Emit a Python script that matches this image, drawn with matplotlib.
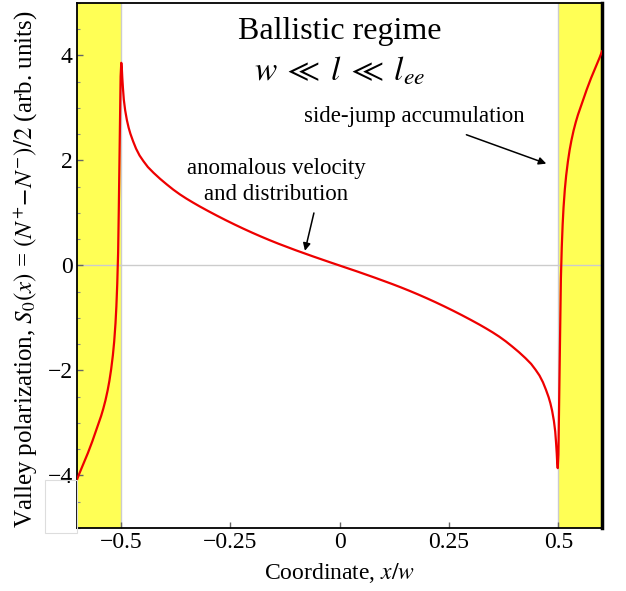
import matplotlib
matplotlib.use("Agg")
import matplotlib.pyplot as plt
from matplotlib.patches import Rectangle
from matplotlib.ticker import MultipleLocator

plt.rcParams['font.family'] = ['Liberation Serif', 'DejaVu Serif']
plt.rcParams['mathtext.fontset'] = 'stix'

# valley polarization profile
coord = [-0.600, -0.595, -0.590, -0.585, -0.580, -0.575, -0.570, -0.565,
         -0.560, -0.555, -0.550, -0.545, -0.540, -0.535, -0.530, -0.526,
         -0.522, -0.518, -0.515, -0.512, -0.510, -0.508, -0.506, -0.5045,
         -0.503, -0.5015, -0.5003, -0.4988, -0.4975, -0.4965, -0.495, -0.493,
         -0.490, -0.486, -0.482, -0.478, -0.472, -0.465, -0.457, -0.448,
         -0.438, -0.425, -0.410, -0.395, -0.380, -0.365, -0.350, -0.335,
         -0.320, -0.300, -0.280, -0.260, -0.240, -0.220, -0.200, -0.180,
         -0.160, -0.140, -0.120, -0.100, -0.080, -0.060, -0.040, -0.020,
         0.000,
         0.020, 0.040, 0.060, 0.080, 0.100, 0.120, 0.140, 0.160,
         0.180, 0.200, 0.220, 0.240, 0.260, 0.280, 0.300, 0.320,
         0.335, 0.350, 0.365, 0.380, 0.395, 0.410, 0.425, 0.438,
         0.448, 0.457, 0.465, 0.472, 0.478, 0.482, 0.486, 0.490,
         0.493, 0.495, 0.4965, 0.4975, 0.4988, 0.5003, 0.5015, 0.503,
         0.5045, 0.506, 0.508, 0.510, 0.512, 0.515, 0.518, 0.522,
         0.526, 0.530, 0.535, 0.540, 0.545, 0.550, 0.555, 0.560,
         0.565, 0.570, 0.575, 0.580, 0.585, 0.590, 0.595, 0.600]
s0 = [-4.08, -3.97, -3.87, -3.77, -3.67, -3.57, -3.46, -3.35,
      -3.23, -3.11, -2.99, -2.87, -2.73, -2.57, -2.38, -2.20,
      -1.98, -1.71, -1.45, -1.10, -0.78, -0.35, 0.25, 1.05,
      2.00, 2.95, 3.60, 3.86, 3.75, 3.58, 3.38, 3.16,
      2.96, 2.77, 2.625, 2.51, 2.37, 2.225, 2.095, 1.985,
      1.875, 1.765, 1.65, 1.545, 1.445, 1.355, 1.274, 1.199,
      1.127, 1.036, 0.948, 0.863, 0.781, 0.702, 0.626, 0.553,
      0.483, 0.416, 0.352, 0.290, 0.230, 0.171, 0.113, 0.056,
      0.00,
      -0.056, -0.113, -0.171, -0.230, -0.290, -0.352, -0.416, -0.483,
      -0.553, -0.626, -0.702, -0.781, -0.863, -0.948, -1.036, -1.127,
      -1.199, -1.274, -1.355, -1.445, -1.545, -1.65, -1.765, -1.875,
      -1.985, -2.095, -2.225, -2.37, -2.51, -2.625, -2.77, -2.96,
      -3.16, -3.38, -3.58, -3.75, -3.86, -3.60, -2.95, -2.00,
      -1.05, -0.25, 0.35, 0.78, 1.10, 1.45, 1.71, 1.98,
      2.20, 2.38, 2.57, 2.73, 2.87, 2.99, 3.11, 3.23,
      3.35, 3.46, 3.57, 3.67, 3.77, 3.87, 3.97, 4.08]

xticks = [-0.5, -0.25, 0, 0.25, 0.5]
xtick_labels = ['\u22120.5', '\u22120.25', '0', '0.25', '0.5']
yticks = [-4, -2, 0, 2, 4]
ytick_labels = ['\u22124', '\u22122', '0', '2', '4']

fig = plt.figure(figsize=(6.26, 5.91), dpi=100)
ax = fig.add_axes([0.123, 0.1066, 0.8387, 0.8884])

ax.set_xlim(-0.6, 0.6)
ax.set_ylim(-5, 5)

# contact regions
yellow = '#ffff55'
ax.axvspan(-0.6, -0.5, color=yellow, lw=0, zorder=0)
ax.axvspan(0.5, 0.6, color=yellow, lw=0, zorder=0)
ax.axvline(-0.5, color='#cccccc', lw=1, zorder=1)
ax.axvline(0.5, color='#cccccc', lw=1, zorder=1)
ax.axhline(0, color='#cccccc', lw=1, zorder=1)

ax.plot(coord, s0, color='#ee0000', lw=1.6, zorder=3)

ax.set_xticks(xticks)
ax.set_xticklabels(xtick_labels, fontsize=17)
ax.set_yticks(yticks)
ax.set_yticklabels(ytick_labels, fontsize=17)
ax.yaxis.set_minor_locator(MultipleLocator(0.5))
ax.tick_params(which='major', direction='in', length=4, width=1, color='#666666', pad=3)
ax.tick_params(which='minor', direction='in', length=2.5, width=0.8, color='#888888')
ax.tick_params(axis='x', which='minor', length=0)

for side in ['left', 'bottom', 'top']:
    ax.spines[side].set_linewidth(1.3)
    ax.spines[side].set_color('black')
ax.spines['right'].set_linewidth(2.5)
ax.spines['right'].set_color('black')

ax.text(0, 4.45, 'Ballistic regime', ha='center', va='center', fontsize=23)
ax.text(0, 3.70, r'$w\;\ll\;l\;\ll\;l_{ee}$', ha='center', va='center', fontsize=24)

ax.text(-0.145, 1.60, 'anomalous velocity\nand distribution', ha='center', va='center',
        fontsize=16.5, linespacing=1.3)
ax.annotate('', xy=(-0.079, 0.28), xytext=(-0.0585, 1.0),
            arrowprops=dict(arrowstyle='-|>', color='black', lw=1.1, mutation_scale=11,
                            shrinkA=0, shrinkB=0))
ax.text(0.172, 2.84, 'side-jump accumulation', ha='center', va='center', fontsize=16.5)
ax.annotate('', xy=(0.4726, 1.94), xytext=(0.290, 2.49),
            arrowprops=dict(arrowstyle='-|>', color='black', lw=1.1, mutation_scale=11,
                            shrinkA=0, shrinkB=0))

ax.set_xlabel(r'Coordinate, $x/w$', fontsize=17, labelpad=6)
fig.text(0.042, 0.545, r'Valley polarization, $S_0(x)$ = $(N^{+}\!-\!N^{-})/2$ (arb. units)',
         rotation=90, ha='center', va='center', fontsize=18)

# small blank box left of the frame corner
fig.patches.append(Rectangle((45 / 626, 58 / 591), 32 / 626, 53 / 591, transform=fig.transFigure,
                             fill=False, edgecolor='#dddddd', lw=0.8, zorder=0))

fig.savefig('out.png', dpi=100)
